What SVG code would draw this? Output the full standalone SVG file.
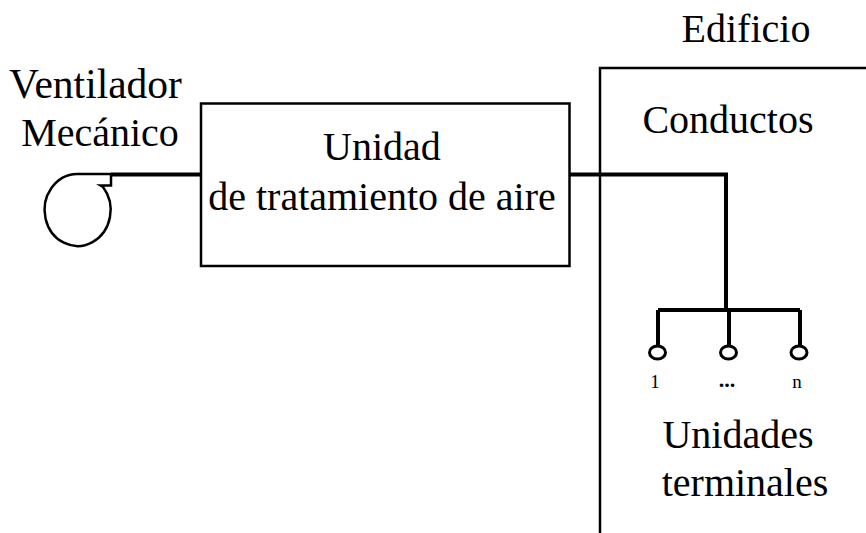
<svg xmlns="http://www.w3.org/2000/svg" width="866" height="533" viewBox="0 0 866 533">
<style>
text{font-family:"Liberation Serif","Times New Roman",serif;fill:#000;text-anchor:middle}
.l{font-size:40px}
.s{font-size:19px}
.b{fill:none;stroke:#000;stroke-width:2.500}
.t{fill:none;stroke:#000;stroke-width:4}
.c{fill:#fff;stroke:#000;stroke-width:3}
</style>
<rect width="866" height="533" fill="#fff"/>
<g id="building"><path class="b" d="M866 68H600V533"/><text class="l" x="746" y="42">Edificio</text></g>
<g id="ahu"><rect class="b" x="201" y="103.500" width="368.500" height="162.500"/><text class="l" x="382" y="160">Unidad</text><text class="l" x="382" y="210">de tratamiento de aire</text></g>
<g id="fan"><path class="b" d="M111 174V185.500H100.500L103 187A33 36 0 1 1 77 174H111"/><text class="l" x="95.500" y="98" style="font-size:41.500px">Ventilador</text><text class="l" x="100" y="146">Mecánico</text></g>
<g id="connectors"><path class="t" d="M111 174.500H201M569.500 174.500H726V310M658 310H800M658 310V345M729 310V345M800 310V345"/></g>
<g id="ducts"><text class="l" x="728" y="133">Conductos</text></g>
<g id="terminal-1"><ellipse class="c" cx="657.500" cy="352.500" rx="8" ry="6.500"/><text class="s" x="655" y="388">1</text></g>
<g id="terminal-2"><ellipse class="c" cx="728.500" cy="352.500" rx="8" ry="6.500"/><text class="s" x="727" y="387" font-weight="bold" style="font-size:22px">...</text></g>
<g id="terminal-n"><ellipse class="c" cx="799" cy="352.500" rx="8" ry="6.500"/><text class="s" x="797" y="388">n</text></g>
<g id="terminals"><text class="l" x="738" y="448">Unidades</text><text class="l" x="745" y="496">terminales</text></g>
</svg>
